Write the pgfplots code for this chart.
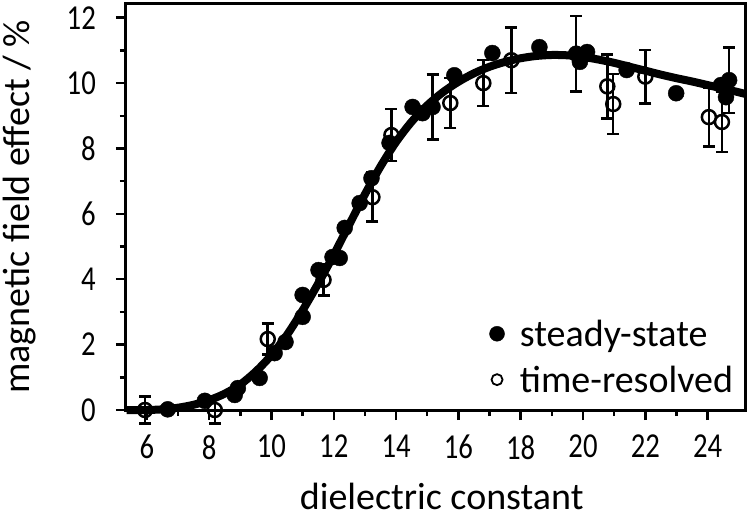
\documentclass[border=0pt]{standalone}
\usepackage{fontspec}
\setmainfont{Carlito}
\usepackage{graphicx}
\usepackage{pgfplots}
\pgfplotsset{compat=1.18}
\pgfplotsset{mylegimg/.style={legend image code/.code={\path (-10pt,0pt) (20pt,0pt); \draw[##1] plot coordinates {(0pt,0pt)};}}}

\pgfplotstableread{
x y
5.35 0.0
6 0.0
6.5 0.02
7 0.07
7.5 0.16
8 0.3
8.5 0.5
9 0.78
9.5 1.18
10 1.68
10.5 2.3
11 3.05
11.5 3.87
12 4.75
12.5 5.68
13 6.6
13.5 7.45
14 8.2
14.5 8.82
15 9.32
15.5 9.72
16 10.04
16.5 10.3
17 10.5
17.5 10.65
18 10.76
18.5 10.83
19 10.86
19.5 10.85
20 10.8
20.5 10.72
21 10.62
21.5 10.5
22 10.38
22.5 10.26
23 10.15
23.5 10.05
24 9.94
24.5 9.83
25 9.72
25.2 9.67
}\curve

\pgfplotstableread{
x y
6.67 0.02
7.86 0.28
8.82 0.46
8.92 0.67
9.62 0.98
10.1 1.74
10.45 2.08
11.0 2.85
11.0 3.52
11.51 4.28
11.96 4.68
12.19 4.65
12.35 5.57
12.83 6.33
13.21 7.09
13.79 8.17
14.53 9.27
14.85 9.08
15.87 10.24
17.09 10.92
18.6 11.1
19.9 10.65
20.13 10.95
21.4 10.4
22.99 9.69
24.43 9.94
24.59 9.57
}\steady

\pgfplotstableread{
x y e
15.17 9.27 1.0
19.78 10.9 1.15
24.69 10.09 1.0
}\steadyerr

\pgfplotstableread{
x y e
5.94 0 0.42
8.18 0 0.42
9.88 2.17 0.47
11.67 3.98 0.48
13.24 6.51 0.75
13.85 8.41 0.8
15.74 9.39 0.77
16.80 10.0 0.7
17.7 10.7 1.0
20.78 9.9 0.98
20.97 9.36 0.92
22.0 10.2 0.82
24.04 8.96 0.9
24.46 8.81 0.92
}\timeres

\begin{document}
\begin{tikzpicture}
\begin{axis}[
  scale only axis,
  at={(0,0)}, anchor=south west,
  width=619pt, height=406pt,
  xmin=5.33, xmax=25.2,
  ymin=0, ymax=12.42,
  clip=false,
  axis line style={line width=3pt},
  xtick={6,8,...,24},
  ytick={0,2,...,12},
  minor x tick num=1,
  minor y tick num=1,
  tick align=outside,
  major tick length=10pt,
  minor tick length=6pt,
  every tick/.style={line width=2.5pt, black},
  xtick pos=bottom, ytick pos=left,
  xticklabel={\scalebox{0.82}[1]{\pgfmathprintnumber{\tick}}},
  yticklabel={\scalebox{0.82}[1]{\pgfmathprintnumber{\tick}}},
  /pgf/number format/assume math mode=true,
  xticklabel style={font=\fontsize{35}{40}\selectfont, anchor=north, inner sep=0pt, yshift=-15pt},
  yticklabel style={font=\fontsize{35}{40}\selectfont, anchor=east, inner sep=0pt, xshift=-20pt},
  label style={font=\fontsize{38}{44}\selectfont, inner sep=0pt},
  xlabel={dielectric constant},
  ylabel={magnetic field effect / \%},
  xlabel style={at={(axis description cs:0.51,-0.213)}, anchor=center, text depth=0pt},
  ylabel style={at={(axis description cs:-0.172,0.5)}, anchor=center},
  legend style={draw=none, fill=none, at={(axis description cs:0.5815,0.035)}, anchor=south west,
    font=\fontsize{38}{44}\selectfont, row sep=14pt, inner sep=0pt},
  legend cell align=left,
]
\addlegendimage{only marks, mark=*, mark size=7.5pt, black, mylegimg}
\addlegendentry{steady-state}
\addlegendimage{only marks, mark=o, mark size=5.5pt, line width=1.8pt, black, mylegimg}
\addlegendentry{time-resolved}

\addplot[no marks, line width=8pt, black, smooth] table[x=x,y=y] {\curve};

\addplot[only marks, mark=*, mark size=8pt, black,
  error bars/.cd, y dir=both, y explicit,
  error bar style={line width=2.5pt},
  error mark options={rotate=90, mark size=6pt, line width=2.5pt}]
  table[x=x,y=y,y error=e] {\steadyerr};

\addplot[only marks, mark=*, mark size=8pt, black] table[x=x,y=y] {\steady};

\addplot[only marks, mark=o, mark size=7pt, black, line width=2.5pt, mark options={fill=white},
  error bars/.cd, y dir=both, y explicit,
  error bar style={line width=2.5pt},
  error mark options={rotate=90, mark size=6pt, line width=2.5pt}]
  table[x=x,y=y,y error=e] {\timeres};
\end{axis}
\path[use as bounding box] (-126pt,-109pt) rectangle (623pt,410pt);
\end{tikzpicture}
\end{document}
